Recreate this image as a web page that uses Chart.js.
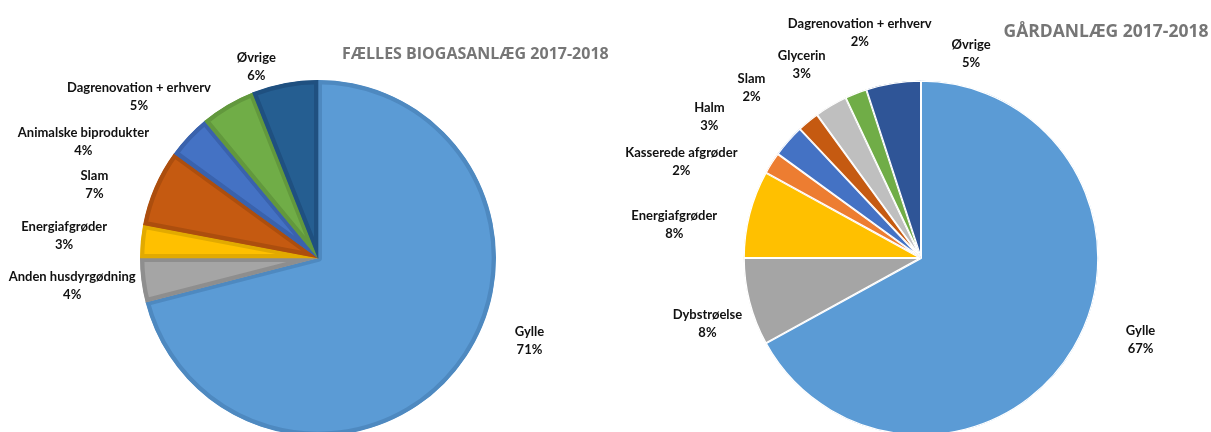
<!DOCTYPE html>
<html><head><meta charset="utf-8">
<script src="https://cdn.jsdelivr.net/npm/chart.js@4/dist/chart.umd.min.js"></script>
<style>
html,body{margin:0;padding:0;background:#fff;width:1211px;height:432px;overflow:hidden}
canvas{position:absolute;left:0;top:0}
</style></head><body>
<canvas id="c1" width="1211" height="470"></canvas>
<canvas id="c2" width="1211" height="470"></canvas>
<script>
// ---- data ----
const leftTitle = 'FÆLLES BIOGASANLÆG 2017-2018';
const leftCategories = ['Gylle','Anden husdyrgødning','Energiafgrøder','Slam','Animalske biprodukter','Dagrenovation + erhverv','Øvrige'];
const leftValues = [71,4,3,7,4,5,6];

const rightTitle = 'GÅRDANLÆG 2017-2018';
const rightCategories = ['Gylle','Dybstrøelse','Energiafgrøder','Kasserede afgrøder','Halm','Slam','Glycerin','Dagrenovation + erhverv','Øvrige'];
const rightValues = [67,8,8,2,3,2,3,2,5];

// ---- styles ----
const leftColors  = ['#5B9BD5','#A5A5A5','#FFC000','#C55A11','#4472C4','#70AD47','#255E91'];
const leftBorders = ['#4E89C0','#8E8E8E','#E2AA00','#AC4E0E','#3A62AC','#62983D','#1F5080'];
const rightColors = ['#5B9BD5','#A5A5A5','#FFC000','#ED7D31','#4472C4','#C55A11','#BFBFBF','#70AD47','#2F5597'];

// label anchor positions relative to pie centre, in units of the radius
const leftLabelPos  = [[1.188,0.466],[-1.381,0.159],[-1.426,-0.125],[-1.256,-0.409],[-1.318,-0.653],[-1.006,-0.903],[-0.347,-1.074]];
const leftTitlePos  = [0.884,-1.142];
const rightLabelPos = [[1.237,0.463],[-1.203,0.373],[-1.390,-0.186],[-1.350,-0.542],[-1.192,-0.797],[-0.955,-0.960],[-0.672,-1.090],[-0.345,-1.266],[0.282,-1.153]];
const rightTitlePos = [1.042,-1.271];

const outLabels = {
  id: 'outLabels',
  afterDatasetsDraw(chart, args, o) {
    const ctx = chart.ctx;
    const meta = chart.getDatasetMeta(0);
    const data = chart.data.datasets[0].data;
    const total = data.reduce((a, b) => a + b, 0);
    let cx = 0, cy = 0, R = 0;
    ctx.save();
    ctx.textAlign = 'center';
    ctx.textBaseline = 'middle';
    ctx.font = o.font;
    ctx.fillStyle = o.color;
    meta.data.forEach((arc, i) => {
      const p = arc.getProps(['x', 'y', 'outerRadius'], true);
      cx = p.x; cy = p.y; R = p.outerRadius;
      const lx = p.x + o.pos[i][0] * R, ly = p.y + o.pos[i][1] * R;
      ctx.fillText(chart.data.labels[i], lx, ly - o.gap / 2);
      ctx.fillText(Math.round(data[i] / total * 100) + '%', lx, ly + o.gap / 2);
    });
    ctx.font = o.titleFont;
    ctx.fillStyle = o.titleColor;
    ctx.fillText(o.title, cx + o.titlePos[0] * R, cy + o.titlePos[1] * R);
    ctx.restore();
  }
};

function makePie(id, labels, values, bg, border, bw, pad, pos, title, titlePos, titleFont) {
  return new Chart(document.getElementById(id), {
    type: 'pie',
    data: { labels: labels, datasets: [{ data: values, backgroundColor: bg, borderColor: border, borderWidth: bw, borderAlign: 'inner' }] },
    options: {
      responsive: false, animation: false,
      layout: { padding: pad },
      plugins: {
        legend: { display: false }, tooltip: { enabled: false },
        outLabels: { pos: pos, gap: 18, font: 'bold 13px Lato, "Open Sans", sans-serif', color: '#111111',
          title: title, titlePos: titlePos, titleFont: titleFont, titleColor: '#767676' }
      }
    },
    plugins: [outLabels]
  });
}

makePie('c1', leftCategories, leftValues, leftColors, leftBorders, 4,
  { left: 140, right: 715, top: 80, bottom: 34 }, leftLabelPos, leftTitle, leftTitlePos,
  'bold 16px "Open Sans", sans-serif');
makePie('c2', rightCategories, rightValues, rightColors, '#ffffff', 1,
  { left: 743.5, right: 112.5, top: 80.5, bottom: 34.5 }, rightLabelPos, rightTitle, rightTitlePos,
  'bold 17.5px "Open Sans", sans-serif');
</script>
</body></html>
